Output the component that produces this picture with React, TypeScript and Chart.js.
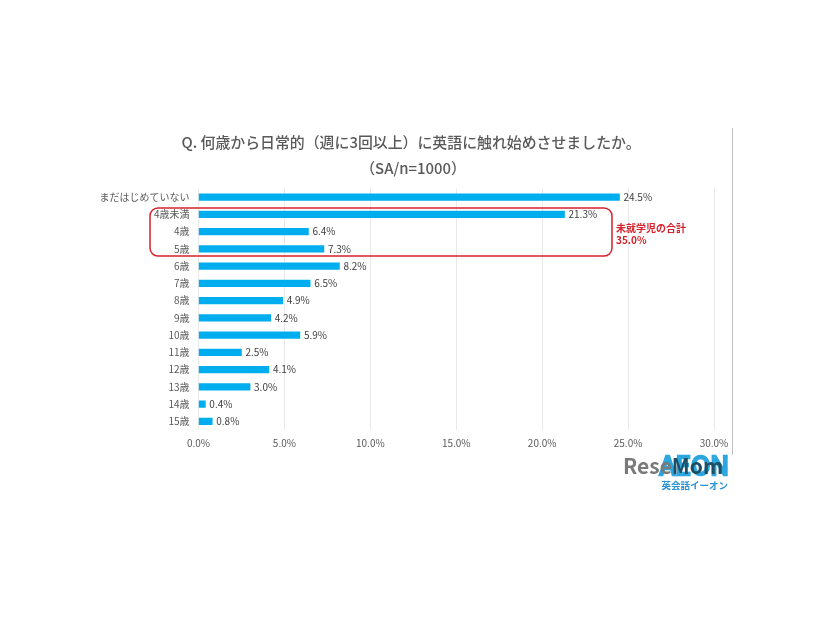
import React, { useEffect, useRef } from 'react'
import { Chart, registerables } from 'chart.js'

Chart.register(...registerables)

const FONT = '"Noto Sans CJK JP", "Noto Sans", sans-serif'

const categories = ['まだはじめていない', '4歳未満', '4歳', '5歳', '6歳', '7歳', '8歳', '9歳', '10歳', '11歳', '12歳', '13歳', '14歳', '15歳']
const values = [24.5, 21.3, 6.4, 7.3, 8.2, 6.5, 4.9, 4.2, 5.9, 2.5, 4.1, 3.0, 0.4, 0.8]
const titleLines = ['Q. 何歳から日常的（週に3回以上）に英語に触れ始めさせましたか。', '（SA/n=1000）']
const noteLines = ['未就学児の合計', '35.0%']

// value labels at bar ends
const barLabels = {
    id: 'barLabels',
    afterDatasetsDraw(chart: Chart) {
        const ctx = chart.ctx
        ctx.save()
        ctx.font = `10px ${FONT}`
        ctx.fillStyle = '#404040'
        ctx.textBaseline = 'middle'
        ctx.textAlign = 'left'
        chart.getDatasetMeta(0).data.forEach((bar, i) => {
            ctx.fillText(values[i].toFixed(1) + '%', bar.x + 4, bar.y)
        })
        ctx.restore()
    }
}

// title, red box, note, side rule and logos
const overlay = {
    id: 'overlay',
    afterDraw(chart: Chart) {
        const ctx = chart.ctx
        ctx.save()

        // the plot keeps a wide right margin, so the title is centred by hand
        ctx.fillStyle = '#595959'
        ctx.font = `500 14.9px ${FONT}`
        ctx.textAlign = 'center'
        ctx.textBaseline = 'middle'
        ctx.fillText(titleLines[0], 411, 142.5)
        ctx.fillText(titleLines[1], 413, 168)

        ctx.strokeStyle = '#bfbfbf'
        ctx.lineWidth = 1
        ctx.beginPath()
        ctx.moveTo(732.5, 128)
        ctx.lineTo(732.5, 455)
        ctx.stroke()

        ctx.strokeStyle = '#d7212b'
        ctx.lineWidth = 1.5
        ctx.beginPath()
        ctx.roundRect(150, 208, 462, 48, 8)
        ctx.stroke()

        ctx.fillStyle = '#d7212b'
        ctx.font = `bold 10px ${FONT}`
        ctx.textAlign = 'left'
        ctx.fillText(noteLines[0], 616, 228.5)
        ctx.fillText(noteLines[1], 616, 240)

        // logos
        ctx.textBaseline = 'alphabetic'
        ctx.strokeStyle = '#2ba6de'
        ctx.lineWidth = 2.5
        ctx.font = `26px ${FONT}`
        ctx.textAlign = 'right'
        ctx.strokeText('AEON', 729, 475)

        ctx.fillStyle = '#2b93d1'
        ctx.font = `bold 9.5px ${FONT}`
        ctx.fillText('英会話イーオン', 728, 488.5)

        ctx.font = `bold 21px ${FONT}`
        ctx.textAlign = 'left'
        ctx.fillStyle = '#7a7a7a'
        ctx.fillText('Rese', 623, 474)
        ctx.fillStyle = '#1f4e63'
        ctx.fillText('Mom', 623 + ctx.measureText('Rese').width, 474)

        ctx.restore()
    }
}

export default function App() {
    const canvasRef = useRef<HTMLCanvasElement>(null)

    useEffect(() => {
        if (!canvasRef.current) return
        const chart = new Chart(canvasRef.current, {
            type: 'bar',
            data: {
                labels: categories,
                datasets: [{
                    data: values,
                    backgroundColor: '#00aeef',
                    barThickness: 6.5
                }]
            },
            options: {
                indexAxis: 'y',
                animation: false,
                responsive: false,
                layout: {
                    padding: { left: 0, right: 112, top: 188.5, bottom: 0 }
                },
                plugins: {
                    legend: { display: false },
                    tooltip: { enabled: false },
                    title: { display: false }
                },
                scales: {
                    x: {
                        min: 0,
                        max: 30,
                        afterFit(axis: any) { axis.height = 190 },
                        ticks: {
                            stepSize: 5,
                            callback: (v: any) => Number(v).toFixed(1) + '%',
                            color: '#595959',
                            font: { family: FONT, size: 10 },
                            maxRotation: 0,
                            padding: 7
                        },
                        border: { display: false },
                        grid: { color: '#e9e9e9', drawTicks: false }
                    },
                    y: {
                        afterFit(axis: any) { axis.width = 198.5 },
                        ticks: {
                            color: '#595959',
                            font: { family: FONT, size: 10 },
                            padding: 9,
                            autoSkip: false
                        },
                        border: { display: false },
                        grid: { display: false, drawTicks: false }
                    }
                }
            },
            plugins: [barLabels, overlay]
        })
        return () => chart.destroy()
    }, [])

    return (
        <div style={{ position: 'fixed', left: 0, top: 0, width: 826, height: 620, background: '#fff' }}>
            <canvas ref={canvasRef} width={826} height={620} style={{ display: 'block' }}></canvas>
        </div>
    )
}
